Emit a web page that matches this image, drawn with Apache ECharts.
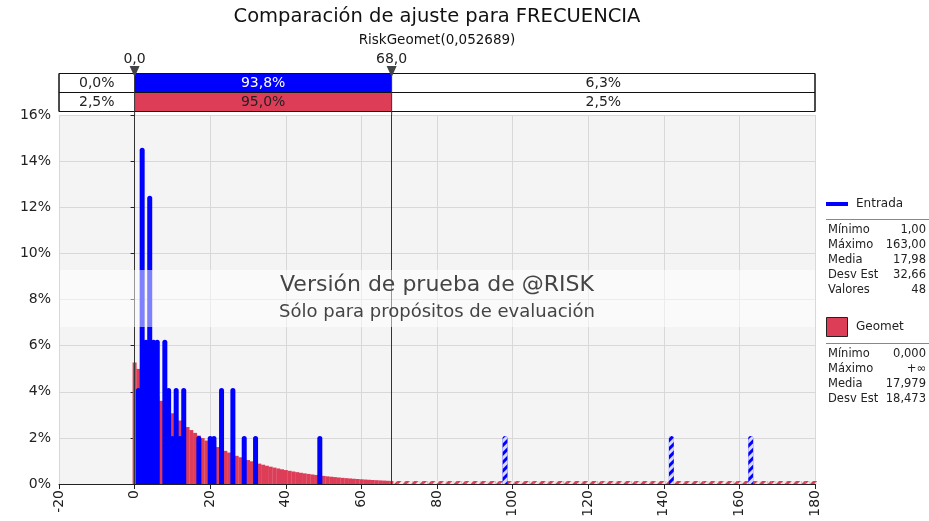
<!DOCTYPE html>
<html>
<head>
<meta charset="utf-8">
<script src="https://cdn.jsdelivr.net/npm/echarts@6/dist/echarts.min.js"></script>
<style>
html, body { margin: 0; padding: 0; background: #fff; }
#chart { width: 929px; height: 521px; }
</style>
</head>
<body>
<div id="chart"></div>
<script>
// Entrada: 48 valores observados, recuento por valor
var entradaValores = [1, 2, 3, 4, 5, 6, 8, 9, 10, 11, 12, 13, 17, 20, 21, 23, 26, 29, 32, 49, 98, 142, 163];
var entradaRecuento = [2, 7, 3, 6, 3, 3, 3, 2, 1, 2, 1, 2, 1, 1, 1, 2, 2, 1, 1, 1, 1, 1, 1];
var totalValores = 48;

// Geomet: probabilidad (%) para k = 0..180
var geometPct = [
  5.269, 4.991, 4.728, 4.479, 4.243, 4.020, 3.808, 3.607, 3.417, 3.237,
  3.067, 2.905, 2.752, 2.607, 2.470, 2.339, 2.216, 2.099, 1.989, 1.884,
  1.785, 1.691, 1.602, 1.517, 1.437, 1.362, 1.290, 1.222, 1.158, 1.097,
  1.039, 0.984, 0.932, 0.883, 0.837, 0.792, 0.751, 0.711, 0.674, 0.638,
  0.605, 0.573, 0.543, 0.514, 0.487, 0.461, 0.437, 0.414, 0.392, 0.371,
  0.352, 0.333, 0.316, 0.299, 0.283, 0.268, 0.254, 0.241, 0.228, 0.216,
  0.205, 0.194, 0.184, 0.174, 0.165, 0.156, 0.148, 0.140, 0.133, 0.126,
  0.119, 0.113, 0.107, 0.101, 0.096, 0.091, 0.086, 0.082, 0.077, 0.073,
  0.069, 0.066, 0.062, 0.059, 0.056, 0.053, 0.050, 0.048, 0.045, 0.043,
  0.040, 0.038, 0.036, 0.034, 0.033, 0.031, 0.029, 0.028, 0.026, 0.025,
  0.024, 0.022, 0.021, 0.020, 0.019, 0.018, 0.017, 0.016, 0.015, 0.015,
  0.014, 0.013, 0.012, 0.012, 0.011, 0.010, 0.010, 0.009, 0.009, 0.008,
  0.008, 0.008, 0.007, 0.007, 0.006, 0.006, 0.006, 0.006, 0.005, 0.005,
  0.005, 0.004, 0.004, 0.004, 0.004, 0.004, 0.003, 0.003, 0.003, 0.003,
  0.003, 0.003, 0.002, 0.002, 0.002, 0.002, 0.002, 0.002, 0.002, 0.002,
  0.002, 0.002, 0.001, 0.001, 0.001, 0.001, 0.001, 0.001, 0.001, 0.001,
  0.001, 0.001, 0.001, 0.001, 0.001, 0.001, 0.001, 0.001, 0.001, 0.001,
  0.0005, 0.0005, 0.0005, 0.0004, 0.0004, 0.0004, 0.0004, 0.0003, 0.0003, 0.0003,
  0.0003
];

// limites del intervalo y textos de la franja superior
var limiteIzq = 0;
var limiteDer = 68;
var limiteTextos = ['0,0', '68,0'];
var filaEntrada = ['0,0%', '93,8%', '6,3%'];
var filaGeomet = ['2,5%', '95,0%', '2,5%'];

// ejes
var xMin = -20, xMax = 180, xPaso = 20;
var yMin = 0, yMax = 16, yPaso = 2;

// estadisticas
var statsEntrada = [['Mínimo', '1,00'], ['Máximo', '163,00'], ['Media', '17,98'], ['Desv Est', '32,66'], ['Valores', '48']];
var statsGeomet = [['Mínimo', '0,000'], ['Máximo', '+∞'], ['Media', '17,979'], ['Desv Est', '18,473']];

var FONT = '"DejaVu Sans", Verdana, sans-serif';
var AZUL = '#0000FF';
var ROJO = '#DE3D58';

var rayado = {
  symbol: 'rect',
  symbolSize: 1,
  dashArrayX: [1, 0],
  dashArrayY: [3, 3],
  rotation: -Math.PI / 4,
  color: 'rgba(255,255,255,0.85)'
};

function datosGeomet() {
  return geometPct.map(function (v, k) {
    var item = { value: [k, v] };
    if (k > limiteDer) item.itemStyle = { decal: rayado };
    return item;
  });
}

function datosEntrada() {
  return entradaValores.map(function (x, i) {
    var item = { value: [x, entradaRecuento[i] / totalValores * 100] };
    if (x > limiteDer) item.itemStyle = { decal: rayado };
    return item;
  });
}

var chart = echarts.init(document.getElementById('chart'));

var axisX = {
  type: 'value',
  min: xMin,
  max: xMax,
  interval: xPaso,
  axisLine: { show: true, onZero: false, lineStyle: { color: '#222', width: 1 } },
  axisTick: { show: true, length: 5, lineStyle: { color: '#222' } },
  axisLabel: { rotate: 90, fontSize: 14, color: '#222', fontFamily: FONT, margin: 6 },
  splitLine: { show: true, lineStyle: { color: '#d8d8d8', width: 1 } }
};

chart.setOption({
  animation: false,
  grid: {
    left: 59, right: 114, top: 115, bottom: 37,
    show: true, backgroundColor: '#f4f4f4', borderWidth: 0
  },
  xAxis: [
    axisX,
    { type: 'value', min: xMin, max: xMax, show: false }
  ],
  yAxis: {
    type: 'value',
    min: yMin,
    max: yMax,
    interval: yPaso,
    axisLine: { show: true, lineStyle: { color: '#222', width: 1 } },
    axisTick: { show: true, length: 4, lineStyle: { color: '#222' } },
    axisLabel: { formatter: '{value}%', fontSize: 14, color: '#222', fontFamily: FONT, margin: 8 },
    splitLine: { show: true, lineStyle: { color: '#d8d8d8', width: 1 } }
  },
  series: [
    {
      name: 'Geomet',
      type: 'bar',
      xAxisIndex: 0,
      barWidth: 4,
      barMinHeight: 3,
      itemStyle: { color: ROJO },
      data: datosGeomet()
    },
    {
      name: 'Entrada',
      type: 'bar',
      xAxisIndex: 1,
      barWidth: 5,
      itemStyle: { color: AZUL, borderRadius: [2.5, 2.5, 0, 0] },
      data: datosEntrada(),
      markLine: {
        silent: true,
        symbol: 'none',
        label: { show: false },
        lineStyle: { color: '#333', width: 1, type: 'solid' },
        data: [{ xAxis: limiteIzq }, { xAxis: limiteDer }]
      }
    }
  ]
});

// franja superior, marca de agua y panel lateral en pixeles
var pIzq = chart.convertToPixel({ xAxisIndex: 0 }, xMin);
var pDer = chart.convertToPixel({ xAxisIndex: 0 }, xMax);
var p0 = chart.convertToPixel({ xAxisIndex: 0 }, limiteIzq);
var p68 = chart.convertToPixel({ xAxisIndex: 0 }, limiteDer);
var centro = (pIzq + pDer) / 2;

var g = [];
function texto(x, y, s, size, color, align) {
  g.push({
    type: 'text', x: x, y: y, z: 100,
    style: { text: s, fontSize: size, fontFamily: FONT, fill: color || '#222',
      align: align || 'center', verticalAlign: 'middle' }
  });
}
function rect(x, y, w, h, fill, stroke) {
  g.push({
    type: 'rect', z: 90,
    shape: { x: x, y: y, width: w, height: h },
    style: { fill: fill, stroke: stroke || null, lineWidth: 1 }
  });
}
function linea(x1, y1, x2, y2, color, w) {
  g.push({
    type: 'line', z: 95,
    shape: { x1: x1, y1: y1, x2: x2, y2: y2 },
    style: { stroke: color, lineWidth: w || 1 }
  });
}

// titulo
texto(centro, 17, 'Comparación de ajuste para FRECUENCIA', 19.5, '#111');
texto(centro, 40, 'RiskGeomet(0,052689)', 13.5, '#111');

// franja
var yA = 73.5, hF = 19;
rect(pIzq, yA, pDer - pIzq, hF * 2, '#fff', '#111');
rect(p0, yA, p68 - p0, hF, AZUL);
rect(p0, yA + hF, p68 - p0, hF, ROJO);
linea(pIzq, yA + hF, pDer, yA + hF, '#111');
linea(p0, yA, p0, 115, '#333');
linea(p68, yA, p68, 115, '#333');
rect(pIzq, yA, pDer - pIzq, hF * 2, 'none', '#111');
var cols = [(pIzq + p0) / 2, (p0 + p68) / 2, (p68 + pDer) / 2];
filaEntrada.forEach(function (s, i) { texto(cols[i], yA + hF / 2, s, 14, i === 1 ? '#fff' : '#222'); });
filaGeomet.forEach(function (s, i) { texto(cols[i], yA + hF * 1.5, s, 14, '#222'); });
[p0, p68].forEach(function (p, i) {
  g.push({
    type: 'polygon', z: 100,
    shape: { points: [[p - 5, 66], [p + 5, 66], [p, 77]] },
    style: { fill: '#444' }
  });
  texto(p, 59, limiteTextos[i], 14, '#222');
});

// marca de agua
g.push({
  type: 'rect', z: 80,
  shape: { x: pIzq + 1, y: 270, width: pDer - pIzq - 1, height: 57 },
  style: { fill: 'rgba(255,255,255,0.5)' }
});
texto(centro, 285, 'Versión de prueba de @RISK', 22, '#444');
texto(centro, 312, 'Sólo para propósitos de evaluación', 18, '#444');

// panel lateral
linea(826, 204, 848, 204, AZUL, 4);
texto(856, 204, 'Entrada', 12, '#222', 'left');
linea(826, 219.5, 929, 219.5, '#888');
statsEntrada.forEach(function (r, i) {
  texto(828, 230 + i * 15, r[0], 11.5, '#222', 'left');
  texto(926, 230 + i * 15, r[1], 11.5, '#222', 'right');
});
rect(826.5, 317.5, 21, 19, ROJO, '#222');
texto(856, 327, 'Geomet', 12, '#222', 'left');
linea(826, 343.5, 929, 343.5, '#888');
statsGeomet.forEach(function (r, i) {
  texto(828, 354 + i * 15, r[0], 11.5, '#222', 'left');
  texto(926, 354 + i * 15, r[1], 11.5, '#222', 'right');
});

chart.setOption({ graphic: g });
</script>
</body>
</html>
